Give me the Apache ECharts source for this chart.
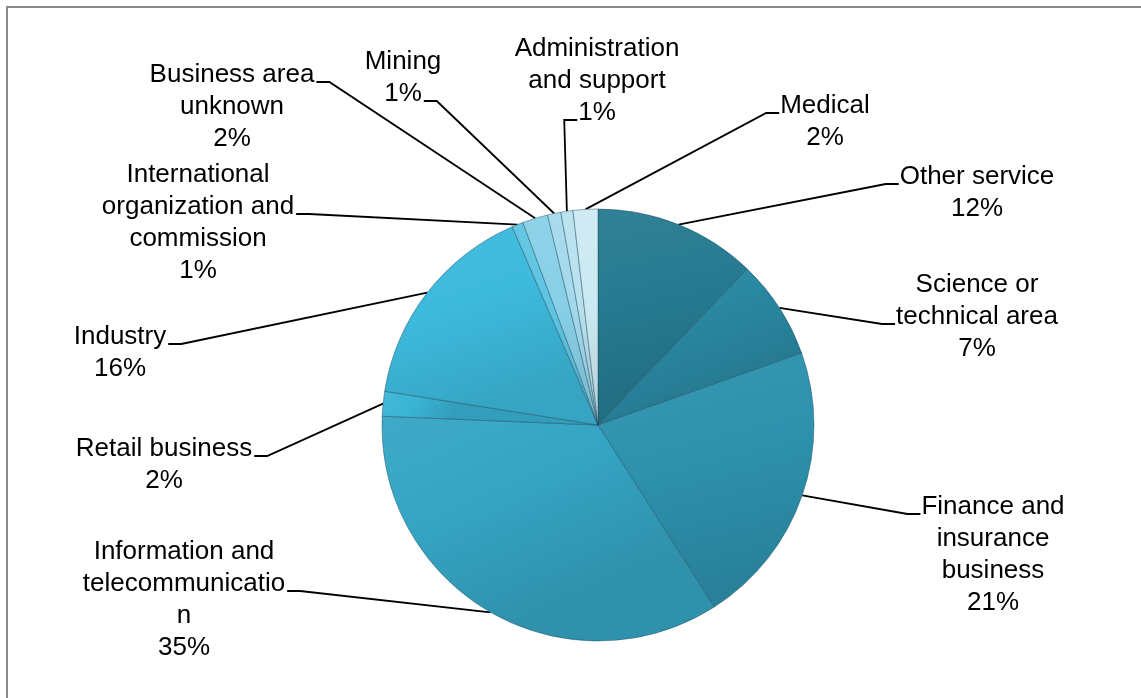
<!DOCTYPE html>
<html>
<head>
<meta charset="utf-8">
<script src="https://cdn.jsdelivr.net/npm/echarts@6/dist/echarts.min.js"></script>
<style>
  html, body { margin: 0; padding: 0; background: #fff; overflow: hidden; }
  #frame { position: absolute; left: 6px; top: 6px; width: 1400px; height: 900px;
           border: 2px solid #8a8a8a; box-sizing: border-box; }
  #chart { position: absolute; left: 0; top: 0; width: 1141px; height: 698px; }
</style>
</head>
<body>
<div id="frame"></div>
<div id="chart"></div>
<script>
// Share of respondents by business area (clockwise from 12 o'clock)
const categories = [
  'Other service',
  'Science or\ntechnical area',
  'Finance and\ninsurance\nbusiness',
  'Information and\ntelecommunicatio\nn',
  'Retail business',
  'Industry',
  'International\norganization and\ncommission',
  'Business area\nunknown',
  'Mining',
  'Administration\nand support',
  'Medical'
];
const shares = [12.15, 7.45, 21.35, 34.7, 1.85, 16.0, 0.85, 1.9, 1.0, 0.9, 1.85];

// Slice fill colours (base tone, shaded into a gradient below)
const sliceColors = [
  '#267a90', '#2a88a2', '#2e92ae', '#35a5c4', '#3ab4d5', '#3dbadd',
  '#5ec4e2', '#88d0e7', '#a4d9eb', '#b8e1ee', '#cce9f2'
];

// Centre of each label block, in pixels
const labelPos = [
  [977, 193], [977, 317], [993, 555], [184, 600], [164, 465], [120, 353],
  [198, 223], [232, 107], [403, 78], [597, 81], [825, 122]
];
// Text row of each label that its leader line attaches to
const attachRow = [0, 1, 0, 1, 0, 0, 1, 0, 1, 2, 0];

const FONT_SIZE = 26, LINE_H = 32, STUB = 13;
const FONT_FAMILY = '"Liberation Sans", Arial, sans-serif';

const measureCtx = document.createElement('canvas').getContext('2d');
measureCtx.font = FONT_SIZE + 'px ' + FONT_FAMILY;

function shade(hex, f) {
  const n = parseInt(hex.slice(1), 16);
  const r = (n >> 16) & 255, g = (n >> 8) & 255, b = n & 255;
  const mix = v => f >= 0 ? Math.round(v + (255 - v) * f) : Math.round(v * (1 + f));
  return 'rgb(' + mix(r) + ',' + mix(g) + ',' + mix(b) + ')';
}

const data = categories.map((name, i) => ({
  name: name,
  value: shares[i],
  itemStyle: {
    color: new echarts.graphic.LinearGradient(0, 0, 0.3, 1, [
      { offset: 0, color: shade(sliceColors[i], 0.05) },
      { offset: 0.45, color: sliceColors[i] },
      { offset: 1, color: shade(sliceColors[i], -0.12) }
    ])
  }
}));

const chart = echarts.init(document.getElementById('chart'), null, { renderer: 'canvas' });
chart.setOption({
  backgroundColor: 'transparent',
  animation: false,
  series: [{
    type: 'pie',
    center: [598, 425],
    radius: 216,
    startAngle: 90,
    clockwise: true,
    avoidLabelOverlap: false,
    percentPrecision: 0,
    data: data,
    itemStyle: {
      borderColor: 'rgba(20, 70, 90, 0.55)',
      borderWidth: 0.8
    },
    label: {
      show: true,
      position: 'outside',
      formatter: '{b}\n{d}%',
      color: '#000',
      fontFamily: FONT_FAMILY,
      fontSize: FONT_SIZE,
      lineHeight: LINE_H
    },
    labelLine: {
      show: true,
      length: 10,
      length2: 12,
      lineStyle: { color: '#000', width: 1.8 }
    },
    labelLayout: function (params) {
      const i = params.dataIndex;
      const p = labelPos[i];
      const rows = categories[i].split('\n').concat([Math.round(shares[i]) + '%']);
      const row = attachRow[i];
      const rowW = measureCtx.measureText(rows[row]).width;
      const top = p[1] - rows.length * LINE_H / 2;
      const ay = top + (row + 0.5) * LINE_H + 7;
      const anchor = params.labelLinePoints ? params.labelLinePoints[0] : [p[0], p[1]];
      const toRight = anchor[0] < p[0];
      const ax = toRight ? p[0] - rowW / 2 - 1 : p[0] + rowW / 2 + 2;
      const sx = toRight ? ax - STUB : ax + STUB;
      return {
        x: p[0], y: p[1], align: 'center', verticalAlign: 'middle',
        labelLinePoints: [anchor, [sx, ay], [ax, ay]]
      };
    },
    emphasis: { disabled: true }
  }]
});
</script>
</body>
</html>
